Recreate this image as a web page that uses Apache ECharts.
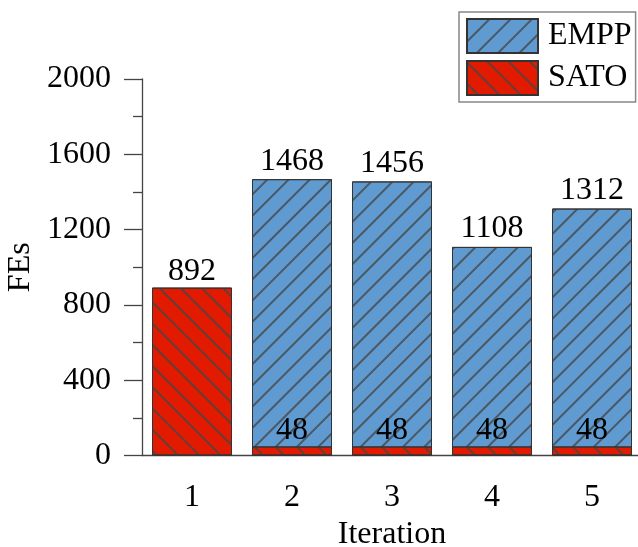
<!DOCTYPE html>
<html><head><meta charset="utf-8">
<script src="https://cdn.jsdelivr.net/npm/echarts@6/dist/echarts.min.js"></script>
<style>html,body{margin:0;padding:0;background:#fff}#c{width:638px;height:547px}</style>
</head><body><div id="c"></div>
<script>
const categories = ['1', '2', '3', '4', '5'];
const emppValues = ['-', 1468, 1456, 1108, 1312];
const satoValues = [892, 48, 48, 48, 48];
const yTicks = [0, 400, 800, 1200, 1600, 2000];

const FONT = '"Liberation Serif", "Times New Roman", serif';
const chart = echarts.init(document.getElementById('c'), null, {renderer: 'canvas'});
const hatch = (rot) => ({
  symbol: 'rect', symbolSize: 1, dashArrayX: [1, 0], dashArrayY: [1.1, 12.2],
  rotation: rot, color: 'rgba(70,70,70,0.8)'
});
chart.setOption({
  backgroundColor: '#ffffff',
  animation: false,
  textStyle: {fontFamily: FONT, color: '#000'},
  legend: {
    orient: 'vertical', left: 459, top: 12, icon: 'rect',
    padding: [6, 4, 6, 7], itemGap: 6, itemWidth: 71, itemHeight: 34,
    borderColor: '#888', borderWidth: 1.5,
    textStyle: {fontFamily: FONT, fontSize: 32, color: '#000', padding: [0, 0, 0, 5]},
    data: ['EMPP', 'SATO']
  },
  grid: {left: 142, top: 79, height: 376.5, width: 500, containLabel: false, outerBoundsMode: 'none'},
  xAxis: [{
    type: 'category', data: categories,
    name: 'Iteration', nameLocation: 'middle', nameGap: 60,
    nameTextStyle: {fontFamily: FONT, fontSize: 32, color: '#000'},
    axisLine: {lineStyle: {color: '#444', width: 1.3}},
    axisTick: {alignWithLabel: true, length: 15, lineStyle: {color: '#444', width: 1.3}},
    axisLabel: {fontFamily: FONT, fontSize: 32, color: '#000', margin: 26}
  }, {
    type: 'category', data: categories, position: 'bottom',
    axisLine: {show: false},
    axisTick: {alignWithLabel: false, length: 6, lineStyle: {color: '#444', width: 1.3}},
    axisLabel: {show: false}
  }],
  yAxis: {
    type: 'value', min: 0, max: 2000, interval: 400,
    name: 'FEs', nameLocation: 'middle', nameGap: 104,
    nameTextStyle: {fontFamily: FONT, fontSize: 32, color: '#000'},
    axisLine: {show: true, lineStyle: {color: '#444', width: 1.3}},
    axisTick: {show: true, length: 18, lineStyle: {color: '#444', width: 1.3}},
    minorTick: {show: true, splitNumber: 2, length: 9, lineStyle: {color: '#444', width: 1.3}},
    splitLine: {show: false},
    axisLabel: {fontFamily: FONT, fontSize: 32, color: '#000', margin: 31,
      formatter: (v) => yTicks.includes(v) ? String(v) : ''}
  },
  series: [{
    name: 'EMPP', type: 'bar', data: emppValues, barWidth: 80, barGap: '-100%',
    itemStyle: {color: '#5F9BD0', borderColor: '#333', borderWidth: 1, decal: hatch(-Math.PI / 4)},
    label: {show: true, position: 'top', distance: 2, fontFamily: FONT, fontSize: 32, color: '#000'}
  }, {
    name: 'SATO', type: 'bar', data: satoValues, barWidth: 80, barGap: '-100%',
    itemStyle: {color: '#E21A00', borderColor: '#333', borderWidth: 1, decal: hatch(Math.PI / 4)},
    label: {show: true, position: 'top', distance: 0, fontFamily: FONT, fontSize: 32, color: '#000'}
  }]
});
</script></body></html>
